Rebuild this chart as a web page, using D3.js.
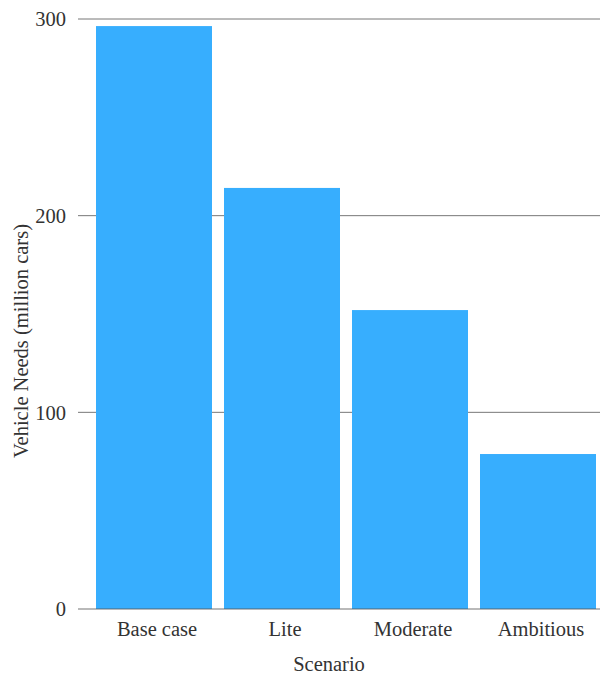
<!DOCTYPE html>
<html>
<head>
<meta charset="utf-8">
<script src="https://cdn.jsdelivr.net/npm/d3@7"></script>
<style>
  html, body { margin: 0; padding: 0; background: #fff; }
  svg text { font-family: "Liberation Serif", "Times New Roman", serif; fill: #333; }
</style>
</head>
<body>
<svg id="chart" width="600" height="675"></svg>
<script>
// Vehicle needs per scenario (million cars)
const scenarios = ["Base case", "Lite", "Moderate", "Ambitious"];
const vehicleNeeds = [296.4, 214.1, 152, 78.8];
const yTicks = [0, 100, 200, 300];

const svg = d3.select("#chart");
const fontSize = 20.5;

const x = d3.scaleBand()
  .domain(scenarios)
  .range([90, 602])
  .paddingInner(0.09375)
  .paddingOuter(0.046875);

const y = d3.scaleLinear()
  .domain([0, 300])
  .range([609, 19]);

const gridLeft = 78, gridRight = 600;

// horizontal gridlines (behind bars)
svg.append("g")
  .selectAll("line")
  .data(yTicks.filter(d => d !== 0))
  .join("line")
  .attr("x1", gridLeft).attr("x2", gridRight)
  .attr("y1", d => y(d)).attr("y2", d => y(d))
  .attr("stroke", "#777").attr("stroke-width", 1);

// bars
svg.append("g")
  .selectAll("rect")
  .data(scenarios.map((s, i) => ({ s, v: vehicleNeeds[i] })))
  .join("rect")
  .attr("x", d => x(d.s))
  .attr("width", x.bandwidth())
  .attr("y", d => y(d.v))
  .attr("height", d => y(0) - y(d.v))
  .attr("fill", "#37AEFE");

// baseline over bars
svg.append("line")
  .attr("x1", gridLeft).attr("x2", gridRight)
  .attr("y1", y(0)).attr("y2", y(0))
  .attr("stroke", "#555").attr("stroke-opacity", 0.55).attr("stroke-width", 1.5);

// y tick labels
svg.append("g")
  .selectAll("text")
  .data(yTicks)
  .join("text")
  .attr("x", 66)
  .attr("y", d => y(d))
  .attr("dy", "0.35em")
  .attr("text-anchor", "end")
  .attr("font-size", fontSize)
  .text(d => d);

// x category labels
svg.append("g")
  .selectAll("text")
  .data(scenarios)
  .join("text")
  .attr("x", d => x(d) + x.bandwidth() / 2 + 3)
  .attr("y", 636)
  .attr("text-anchor", "middle")
  .attr("font-size", fontSize)
  .text(d => d);

// axis titles
svg.append("text")
  .attr("x", 329).attr("y", 671)
  .attr("text-anchor", "middle")
  .attr("font-size", fontSize)
  .text("Scenario");

svg.append("text")
  .attr("transform", "translate(28,341) rotate(-90)")
  .attr("text-anchor", "middle")
  .attr("font-size", fontSize)
  .text("Vehicle Needs (million cars)");
</script>
</body>
</html>
